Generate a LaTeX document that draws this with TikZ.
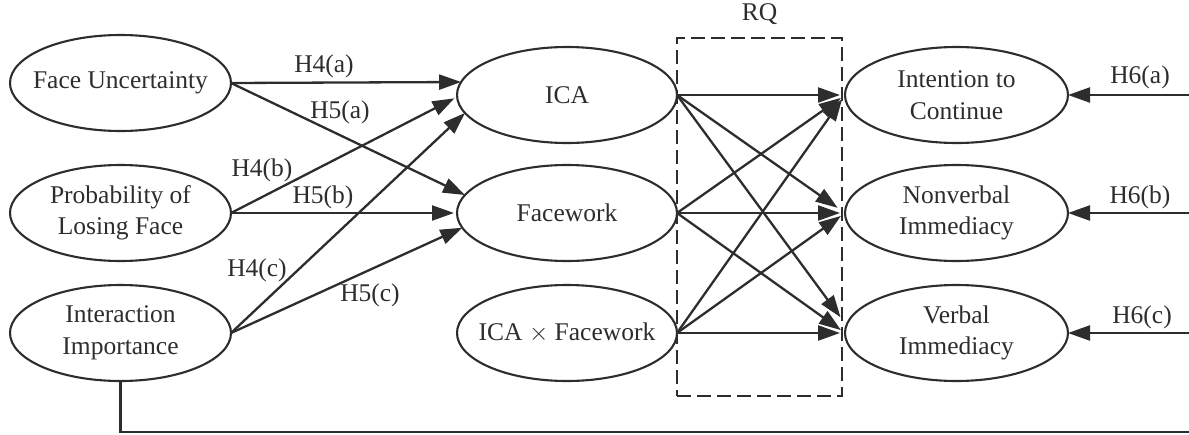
\documentclass[tikz,border=0pt]{standalone}
\usepackage{fontspec}
\setmainfont{Liberation Serif}
\usetikzlibrary{arrows.meta,shapes.geometric}
\definecolor{ink}{RGB}{45,45,45}
\begin{document}
\begin{tikzpicture}[x=1pt,y=-1pt,
  every node/.style={text=ink, font=\fontsize{25.5}{31.5}\selectfont},
  oval/.style={draw=ink, line width=2.1pt, ellipse, inner sep=0pt, outer sep=0pt,
               minimum width=#1, minimum height=96pt},
  oval/.default=220pt,
  caption/.style={align=center, inner sep=0pt},
  hyp/.style={inner sep=0pt},
  link/.style={draw=ink, line width=2.3pt},
  arrow/.style={link, -{Triangle[length=22pt,width=15pt]}},
  tgt/.style={arrow, shorten >=5pt},
  rqbox/.style={draw=ink, line width=2.4pt, dash pattern=on 14pt off 6pt,
                inner sep=0pt, minimum width=165pt, minimum height=358pt}
]
\useasboundingbox (0,0) rectangle (1189,434);

% antecedents
\node[oval=221pt] (fu) at (120.5,83)  {};
\node[caption] (fuT) at (fu.center) {Face Uncertainty};
\node[oval=221pt] (pl) at (120.5,213) {};
\node[caption] (plT) at (pl.center) {Probability of\\Losing Face};
\node[oval=221pt] (ii) at (120.5,333) {};
\node[caption] (iiT) at (ii.center) {Interaction\\Importance};

% mediators
\node[oval] (ica) at (567,95)  {};
\node[caption] (icaT) at (ica.center) {ICA};
\node[oval] (fw)  at (567,213) {};
\node[caption] (fwT) at (fw.center) {Facework};
\node[oval] (ixf) at (567,333) {};
\node[caption] (ixfT) at (ixf.center) {ICA $\times$ Facework};

% outcomes
\node[oval=223pt] (ic) at (956.5,95)  {};
\node[caption] (icT) at (ic.center) {Intention to\\Continue};
\node[oval=223pt] (nv) at (956.5,213) {};
\node[caption] (nvT) at (nv.center) {Nonverbal\\Immediacy};
\node[oval=223pt] (vb) at (956.5,333) {};
\node[caption] (vbT) at (vb.center) {Verbal\\Immediacy};

% research question frame
\node[rqbox] (rq) at (759.5,217) {};
\node[hyp] (rqT) at (759.5,14) {RQ};

% H4 / H5 paths
\draw[arrow] (fu.east) -- (ica.173);
\draw[arrow] (fu.east) -- (fw.170);
\draw[arrow, shorten >=3pt] (pl.east) -- (ica.181);
\draw[arrow, shorten >=3pt] (pl.east) -- (fw.west);
\draw[arrow] (ii.east) -- (ica.190);
\draw[arrow] (ii.east) -- (fw.188);

% mediator -> outcome paths
\draw[tgt] (ica.east) -- (ic.west);
\draw[tgt, shorten >=9pt] (ica.east) -- (nv.west);
\draw[tgt, shorten >=10pt] (ica.east) -- (vb.176);
\draw[tgt] (fw.east) -- (ic.west);
\draw[tgt] (fw.east) -- (nv.west);
\draw[tgt] (fw.east) -- (vb.west);
\draw[tgt] (ixf.east) -- (ic.west);
\draw[tgt] (ixf.east) -- (nv.west);
\draw[tgt] (ixf.east) -- (vb.west);

% H6 paths entering from the right
\coordinate (ea) at (1189,95);
\coordinate (eb) at (1189,213);
\coordinate (ec) at (1189,333);
\draw[arrow] (ea) -- (ic.east);
\draw[arrow] (eb) -- (nv.east);
\draw[arrow] (ec) -- (vb.east);

% interaction importance feed along the bottom
\coordinate (ed) at (1189,432);
\draw[link] (ii.south) |- (ed);

% hypothesis labels
\node[hyp] (h4a) at (324,66)  {H4(a)};
\node[hyp] (h5a) at (340,112) {H5(a)};
\node[hyp] (h4b) at (262,170) {H4(b)};
\node[hyp] (h5b) at (323,197) {H5(b)};
\node[hyp] (h4c) at (257,270) {H4(c)};
\node[hyp] (h5c) at (370,295) {H5(c)};
\node[hyp] (h6a) at (1140,77)  {H6(a)};
\node[hyp] (h6b) at (1140,197) {H6(b)};
\node[hyp] (h6c) at (1142,317) {H6(c)};
\end{tikzpicture}
\end{document}
